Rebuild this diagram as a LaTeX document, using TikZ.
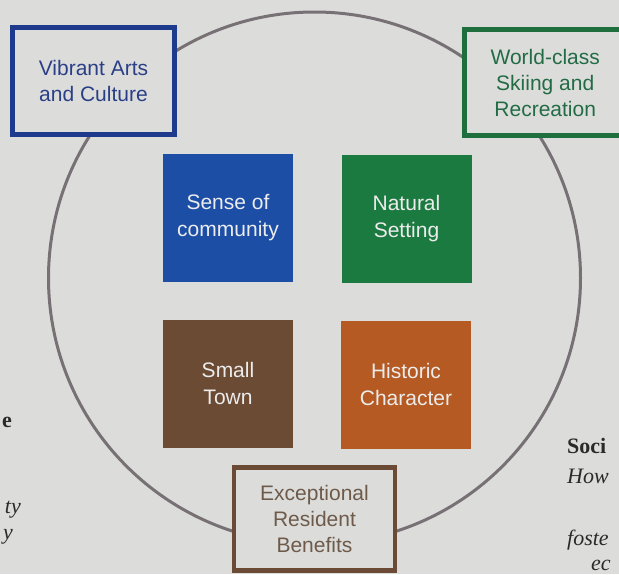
\documentclass[tikz,border=0pt]{standalone}
\usepackage{fontspec}
\setmainfont{Liberation Sans}
\newfontfamily\pageserif{Liberation Serif}
\definecolor{bgcol}{HTML}{DCDDDB}
\definecolor{ringcol}{HTML}{777175}
\definecolor{artsblue}{HTML}{1E3A8C}
\definecolor{artstext}{HTML}{2B3F86}
\definecolor{skigreen}{HTML}{1F6E3E}
\definecolor{skitext}{HTML}{236B45}
\definecolor{benbrown}{HTML}{6B4A36}
\definecolor{bentext}{HTML}{6E5A4A}
\definecolor{sqblue}{HTML}{1C4EA6}
\definecolor{sqgreen}{HTML}{1B7A40}
\definecolor{sqbrown}{HTML}{6B4B34}
\definecolor{sqorange}{HTML}{B55A22}
\definecolor{sqtext}{HTML}{ECECEC}
\definecolor{pagetext}{HTML}{2A2A2A}
\tikzset{
  valuebox/.style={draw, line width=5pt, fill=bgcol, rectangle, inner sep=0pt,
    align=center, font=\fontsize{21}{26}\selectfont},
  coresquare/.style={rectangle, inner sep=0pt, minimum width=130pt, minimum height=128pt,
    align=center, text=sqtext, font=\fontsize{21}{27}\selectfont},
  pagebold/.style={inner sep=0pt, text=pagetext, font=\pageserif\bfseries\fontsize{22}{26}\selectfont},
  pageital/.style={inner sep=0pt, text=pagetext, font=\pageserif\itshape\fontsize{22}{26}\selectfont}
}
\begin{document}
\begin{tikzpicture}[x=1pt,y=-1pt]
\useasboundingbox (0,0) rectangle (619,574);
\clip (0,0) rectangle (619,574);
\fill[bgcol] (0,0) rectangle (619,574);

% ring
\node[circle, draw=ringcol, line width=3pt, minimum size=532pt, inner sep=0pt] (ring) at (314.5,278) {};

% outer value boxes
\node[valuebox, draw=artsblue, text=artstext, minimum width=162pt, minimum height=107pt] (arts) at (93.5,80.75) {Vibrant Arts\\and Culture};
\node[valuebox, draw=skigreen, text=skitext, minimum width=161.5pt, minimum height=106pt] (ski) at (545.25,82.5) {World-class\\Skiing and\\Recreation};
\node[valuebox, draw=benbrown, text=bentext, line width=4.5pt, minimum width=161pt, minimum height=103pt] (benefits) at (314.5,519) {Exceptional\\Resident\\Benefits};

% core squares
\node[coresquare, fill=sqblue] (community) at (228,217.5) {Sense of\\community};
\node[coresquare, fill=sqgreen] (natural) at (406.5,219) {Natural\\Setting};
\node[coresquare, fill=sqbrown] (smalltown) at (228,383.5) {Small\\Town};
\node[coresquare, fill=sqorange] (historic) at (406,384.5) {Historic\\Character};

% cut-off page text at the edges
\node[pagebold, anchor=base east] (lefte) at (12,427) {e};
\node[pageital, anchor=base east] (leftty) at (21,513) {ty};
\node[pageital, anchor=base east] (lefty) at (13,539) {y};
\node[pagebold, anchor=base west] (soci) at (567,453) {Soci};
\node[pageital, anchor=base west] (how) at (567,483) {How};
\node[pageital, anchor=base west] (foste) at (567,545) {foste};
\node[pageital, anchor=base west] (ec) at (591,570) {ec};
\end{tikzpicture}
\end{document}
